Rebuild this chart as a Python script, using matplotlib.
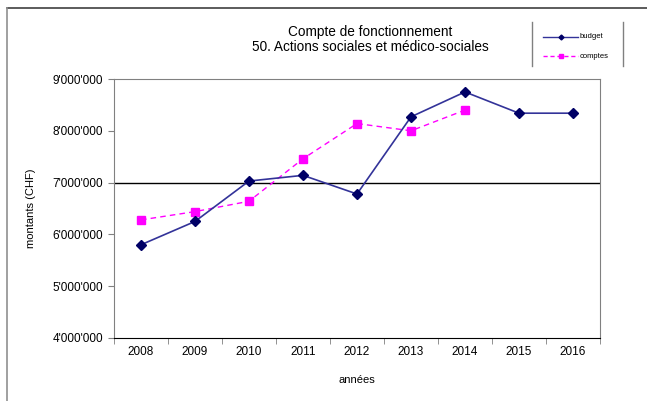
import matplotlib.pyplot as plt
from matplotlib.lines import Line2D
from matplotlib.ticker import FuncFormatter

plt.rcParams['font.family'] = ['Liberation Sans', 'DejaVu Sans']

years = ['2008', '2009', '2010', '2011', '2012', '2013', '2014', '2015', '2016']
budget = [5.80, 6.25, 7.03, 7.14, 6.78, 8.27, 8.75, 8.34, 8.34]
comptes = [6.28, 6.44, 6.64, 7.46, 8.14, 8.00, 8.40]
yticks = [4, 5, 6, 7, 8, 9]

fig = plt.figure(figsize=(6.47, 4.01), dpi=100)
ax = fig.add_axes([114 / 647, 1 - 338 / 401, 486 / 647, 259 / 401])

xb = list(range(len(budget)))
xc = list(range(len(comptes)))
ax.plot(xb, [v * 1e6 for v in budget], color='#333399', lw=1.2,
        marker='D', ms=5.5, mfc='#000066', mec='#000066', zorder=4)
ax.plot(xc, [v * 1e6 for v in comptes], color='#ff00ff', lw=1.0, ls=(0, (4, 3)),
        marker='s', ms=5.5, mfc='#ff00ff', mec='#ff00ff', zorder=3)
ax.axhline(7e6, color='black', lw=1.0, zorder=2)

ax.set_xlim(-0.5, len(years) - 0.5)
ax.set_ylim(4e6, 9e6)
ax.set_yticks([v * 1e6 for v in yticks])
ax.yaxis.set_major_formatter(FuncFormatter(lambda v, p: f"{int(round(v)):,}".replace(',', "'")))
ax.set_xticks(range(len(years)))
ax.set_xticklabels(years)
ax.set_xticks([i - 0.5 for i in range(len(years) + 1)], minor=True)
ax.tick_params(axis='x', which='major', length=0, labelsize=8.5, pad=6)
ax.tick_params(axis='x', which='minor', length=4, color='#808080')
ax.tick_params(axis='y', length=4, labelsize=8.5, color='#808080', pad=4)

for s in ['top', 'right', 'left']:
    ax.spines[s].set_color('#808080')
ax.spines['bottom'].set_color('black')

ax.set_ylabel('montants (CHF)', fontsize=8, labelpad=12)
ax.set_xlabel('années', fontsize=8, labelpad=12)

fig.text(370 / 647, 1 - 32 / 401, 'Compte de fonctionnement', ha='center', va='center', fontsize=9.8)
fig.text(370 / 647, 1 - 47 / 401, '50. Actions sociales et médico-sociales', ha='center', va='center', fontsize=9.8)

# legend drawn by hand with vertical side lines
fig.add_artist(Line2D([532 / 647, 532 / 647], [1 - 22 / 401, 1 - 66 / 401], color='#808080', lw=1))
fig.add_artist(Line2D([623 / 647, 623 / 647], [1 - 22 / 401, 1 - 66 / 401], color='#808080', lw=1))
fig.add_artist(Line2D([543 / 647, 578 / 647], [1 - 37 / 401] * 2, color='#333399', lw=1))
fig.add_artist(Line2D([560.5 / 647], [1 - 37 / 401], marker='D', ms=2.5, color='#000066'))
fig.add_artist(Line2D([543 / 647, 578 / 647], [1 - 56 / 401] * 2, color='#ff00ff', lw=1, ls=(0, (3, 2))))
fig.add_artist(Line2D([560.5 / 647], [1 - 56 / 401], marker='s', ms=3, color='#ff00ff'))
fig.text(580 / 647, 1 - 37 / 401, 'budget', fontsize=5.5, va='center')
fig.text(580 / 647, 1 - 56 / 401, 'comptes', fontsize=5.5, va='center')

# outer chart frame (top and left)
fig.add_artist(Line2D([7 / 647, 647 / 647], [1 - 8 / 401] * 2, color='#404040', lw=1.2))
fig.add_artist(Line2D([7 / 647, 7 / 647], [1 - 8 / 401, 0], color='#909090', lw=1.2))

fig.savefig('out.png', dpi=100)
